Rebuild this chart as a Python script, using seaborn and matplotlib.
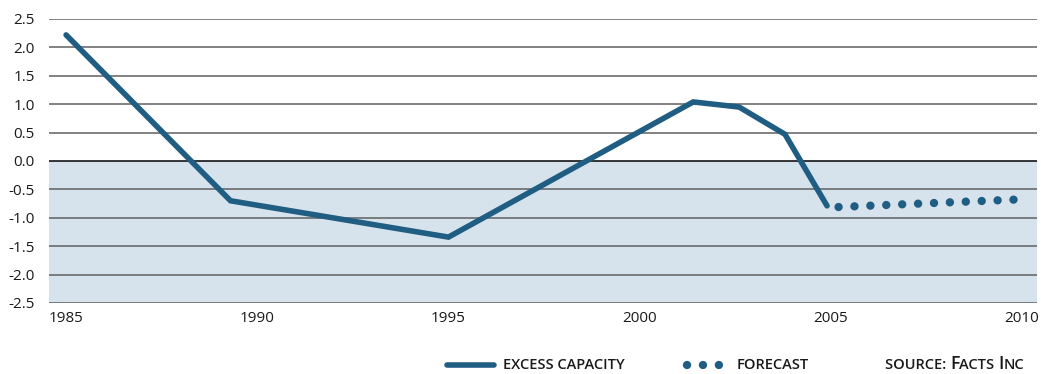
import matplotlib
matplotlib.use("Agg")
import matplotlib.pyplot as plt
from matplotlib.lines import Line2D
import seaborn as sns
import pandas as pd

# Historical excess capacity (index), with forecast segment
hist_years = [1985.0, 1989.3, 1995.0, 2001.4, 2002.6, 2003.8, 2004.9]
hist_values = [2.22, -0.70, -1.34, 1.04, 0.95, 0.47, -0.79]
fc_years = [2005.2, 2009.8]
fc_values = [-0.81, -0.68]
x_ticks = [1985, 1990, 1995, 2000, 2005, 2010]
y_ticks = [2.5, 2.0, 1.5, 1.0, 0.5, 0.0, -0.5, -1.0, -1.5, -2.0, -2.5]

LINE = "#1f5d82"
FILL = "#d6e2ec"
GRID = "#606060"
TXT = "#1a1a1a"

DOT_LW = 6.0
DOT_STYLE = (0, (0.01, 1.90))

sns.set_theme(style="white")
plt.rcParams["font.family"] = ["Open Sans", "DejaVu Sans"]

hist = pd.DataFrame({"year": hist_years, "value": hist_values})
fc = pd.DataFrame({"year": fc_years, "value": fc_values})

fig = plt.figure(figsize=(10.41, 3.74), dpi=100)
ax = fig.add_axes([48.5 / 1041, 1 - 303 / 374, (1037 - 48.5) / 1041, (303 - 19) / 374])

ax.axhspan(-2.5, 0, color=FILL, lw=0, zorder=0)
for v in y_ticks:
    ax.axhline(v, color="#000000" if v == 0 else GRID, lw=1.1, zorder=1)

sns.lineplot(data=hist, x="year", y="value", ax=ax, color=LINE, lw=4.0,
             solid_capstyle="round", solid_joinstyle="miter", zorder=3)
sns.lineplot(data=fc, x="year", y="value", ax=ax, color=LINE, lw=DOT_LW,
             dashes=False, zorder=3)
fc_line = ax.lines[-1]
fc_line.set_linestyle(DOT_STYLE)
fc_line.set_dash_capstyle("round")

ax.set_xlim(1984.54, 2010.39)
ax.set_ylim(-2.5, 2.5)
ax.set_xticks(x_ticks)
ax.set_yticks(y_ticks)
ax.set_yticklabels([f"{v:.1f}" for v in y_ticks])
ax.set_xlabel("")
ax.set_ylabel("")
for s in ax.spines.values():
    s.set_visible(False)
ax.tick_params(axis="both", length=0, labelsize=11, colors=TXT)
ax.tick_params(axis="y", pad=10)
ax.tick_params(axis="x", pad=6)

# Legend row along the bottom
ly = 1 - 365 / 374
base_y = 1 - 369.3 / 374
fig.add_artist(Line2D([447 / 1041, 494 / 1041], [ly, ly], color=LINE, lw=4.0,
                      solid_capstyle="round", transform=fig.transFigure))
fig.add_artist(Line2D([687 / 1041, 719.5 / 1041], [ly, ly], color=LINE, lw=DOT_LW,
                      linestyle=DOT_STYLE, dash_capstyle="round",
                      transform=fig.transFigure))
small = 10.5
big = 12.8
fig.text(503 / 1041, base_y, "EXCESS CAPACITY", fontsize=small, color=TXT,
         fontweight="semibold", va="baseline", ha="left")
fig.text(737 / 1041, base_y, "FORECAST", fontsize=small, color=TXT,
         fontweight="semibold", va="baseline", ha="left")

# Small-caps source credit, assembled piece by piece on a shared baseline
pieces = [("SOURCE: ", small), ("F", big), ("ACTS ", small), ("I", big), ("NC", small)]
fig.canvas.draw()
renderer = fig.canvas.get_renderer()
x = 885.0
for s, size in pieces:
    t = fig.text(x / 1041, base_y, s, fontsize=size, color=TXT,
                 fontweight="semibold", va="baseline", ha="left")
    x += t.get_window_extent(renderer=renderer).width

fig.savefig("out.png", dpi=100)
